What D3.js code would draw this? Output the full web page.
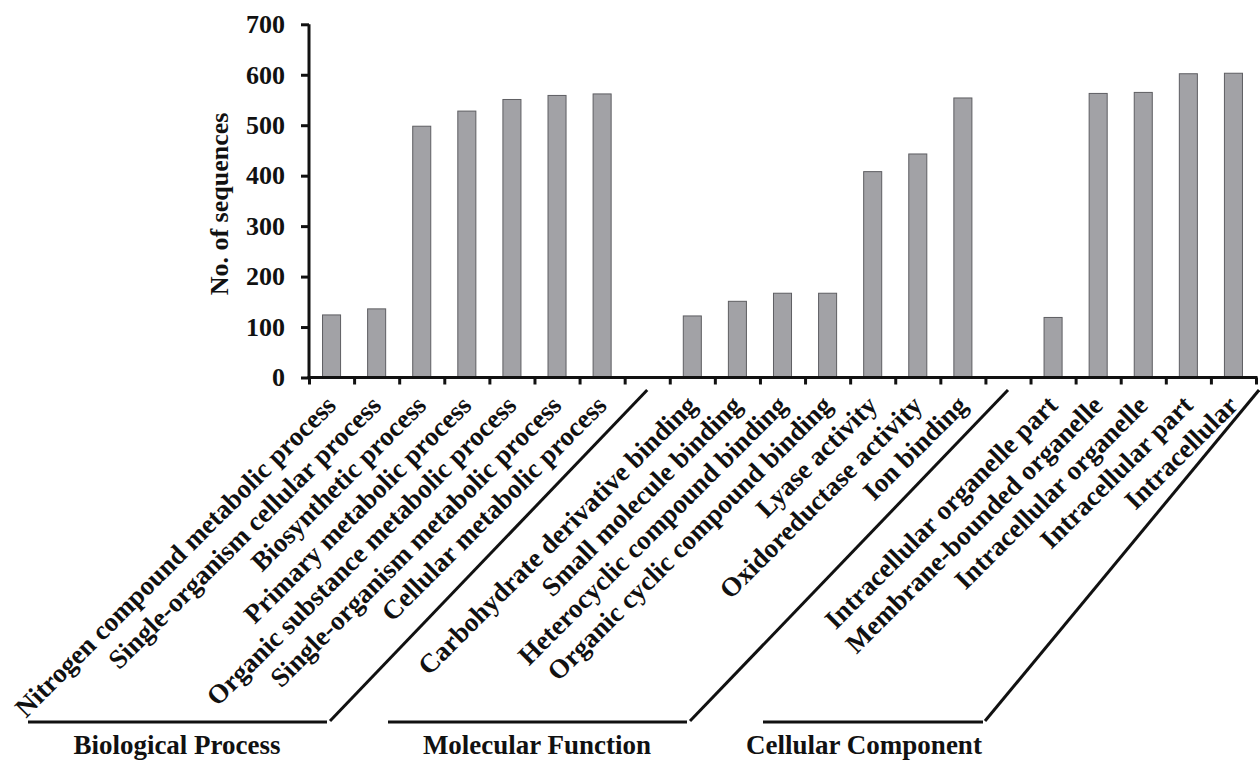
<!DOCTYPE html>
<html>
<head>
<meta charset="utf-8">
<script src="https://cdn.jsdelivr.net/npm/d3@7"></script>
<style>
  html, body { margin: 0; padding: 0; background: #ffffff; }
  svg { display: block; font-family: "Liberation Serif", "Times New Roman", serif; font-weight: bold; }
</style>
</head>
<body>
<svg id="chart" width="1260" height="761"></svg>
<script>
// ---------------- data ----------------
const bpCategories = [
  "Nitrogen compound metabolic process",
  "Single-organism cellular process",
  "Biosynthetic process",
  "Primary metabolic process",
  "Organic substance metabolic process",
  "Single-organism metabolic process",
  "Cellular metabolic process"
];
const bpValues = [124, 136, 498, 528, 551, 559, 562];

const mfCategories = [
  "Carbohydrate derivative binding",
  "Small molecule binding",
  "Heterocyclic compound binding",
  "Organic cyclic compound binding",
  "Lyase activity",
  "Oxidoreductase activity",
  "Ion binding"
];
const mfValues = [122, 151, 167, 167, 408, 443, 554];

const ccCategories = [
  "Intracellular organelle part",
  "Membrane-bounded organelle",
  "Intracellular organelle",
  "Intracellular part",
  "Intracellular"
];
const ccValues = [119, 563, 565, 602, 603];

const groupNames = ["Biological Process", "Molecular Function", "Cellular Component"];
const yTicks = [0, 100, 200, 300, 400, 500, 600, 700];
const yTitle = "No. of sequences";

// ---------------- layout ----------------
const W = 1260, H = 761;
const axisX0 = 309, axisX1 = 1256, axisY0 = 377.5, axisYTop = 24.3;
const barFill = "#a2a2a6", barStroke = "#5e5e62";

// build slots (with an empty slot between groups)
const groups = [
  { name: groupNames[0], cats: bpCategories, vals: bpValues },
  { name: groupNames[1], cats: mfCategories, vals: mfValues },
  { name: groupNames[2], cats: ccCategories, vals: ccValues }
];
const slots = [];
groups.forEach((g, gi) => {
  g.cats.forEach((c, i) => slots.push({ key: c, label: c, value: g.vals[i], group: gi }));
  if (gi < groups.length - 1) slots.push({ key: "__gap" + gi, label: "", value: null, group: gi, gap: true });
});

const svg = d3.select("#chart");

const x = d3.scaleBand()
  .domain(slots.map(d => d.key))
  .range([axisX0, axisX1])
  .paddingInner(0.6)
  .paddingOuter(0.3);

const y = d3.scaleLinear().domain([0, 700]).range([axisY0, axisYTop]);

const slotEdge = d3.scaleLinear().domain([0, slots.length]).range([axisX0, axisX1]);

// bars
svg.append("g").selectAll("rect")
  .data(slots.filter(d => !d.gap))
  .join("rect")
  .attr("x", d => x(d.key))
  .attr("width", x.bandwidth())
  .attr("y", d => y(d.value))
  .attr("height", d => y(0) - y(d.value))
  .attr("fill", barFill)
  .attr("stroke", barStroke)
  .attr("stroke-width", 1);

// y axis
const yAxis = svg.append("g")
  .attr("transform", `translate(${axisX0},0)`)
  .call(d3.axisLeft(y).tickValues(yTicks).tickSize(8).tickPadding(16).tickFormat(d3.format("d")));
yAxis.select(".domain").attr("stroke", "#111").attr("stroke-width", 3)
  .attr("d", `M0,${y(700)}H0V${y(0)}`);
yAxis.selectAll(".tick line").attr("stroke", "#111").attr("stroke-width", 3);
yAxis.selectAll(".tick text")
  .attr("fill", "#111")
  .style("font-size", "26px")
  .style("font-family", "'Liberation Serif', 'Times New Roman', serif")
  .style("font-weight", "bold");

// x axis (tick marks at slot edges)
const xAxis = svg.append("g")
  .attr("transform", `translate(0,${axisY0})`)
  .call(d3.axisBottom(slotEdge).tickValues(d3.range(slots.length + 1)).tickSize(7).tickSizeOuter(0).tickFormat(""));
xAxis.select(".domain").attr("stroke", "#111").attr("stroke-width", 3)
  .attr("d", `M${axisX0 - 1.5},0H${axisX1 + 1.5}`);
xAxis.selectAll(".tick line").attr("stroke", "#111").attr("stroke-width", 3);

// y title
svg.append("text")
  .attr("transform", `translate(228,204) rotate(-90)`)
  .attr("text-anchor", "middle")
  .attr("fill", "#111")
  .style("font-size", "26px")
  .text(yTitle);

// category labels
svg.append("g").selectAll("text")
  .data(slots.filter(d => !d.gap))
  .join("text")
  .attr("transform", d => `translate(${x(d.key) + x.bandwidth() / 2 + 6},407) rotate(-45)`)
  .attr("text-anchor", "end")
  .attr("fill", "#111")
  .style("font-size", "27px")
  .text(d => d.label);

// group brackets: horizontal base line + diagonal up to the axis
const bracketLayout = [
  { lineStart: 28,  lineEnd: 327, diagBottomX: 330, topX: slotEdge(7.5) },
  { lineStart: 388, lineEnd: 687, diagBottomX: 690, topX: slotEdge(15.5) },
  { lineStart: 763, lineEnd: 983, diagBottomX: 985, topX: slotEdge(21) + 3 }
];
const baseY = 722, topY = 390;
const br = svg.append("g").attr("stroke", "#111").attr("stroke-width", 3).attr("fill", "none");
bracketLayout.forEach(b => {
  br.append("line").attr("x1", b.lineStart).attr("x2", b.lineEnd).attr("y1", baseY).attr("y2", baseY);
  br.append("line").attr("x1", b.diagBottomX).attr("y1", baseY - 1).attr("x2", b.topX).attr("y2", topY);
});

// group names
const groupCenters = [177, 537, 864];
svg.append("g").selectAll("text")
  .data(groupNames)
  .join("text")
  .attr("x", (d, i) => groupCenters[i])
  .attr("y", 754)
  .attr("text-anchor", "middle")
  .attr("fill", "#111")
  .style("font-size", "27px")
  .text(d => d);
</script>
</body>
</html>
